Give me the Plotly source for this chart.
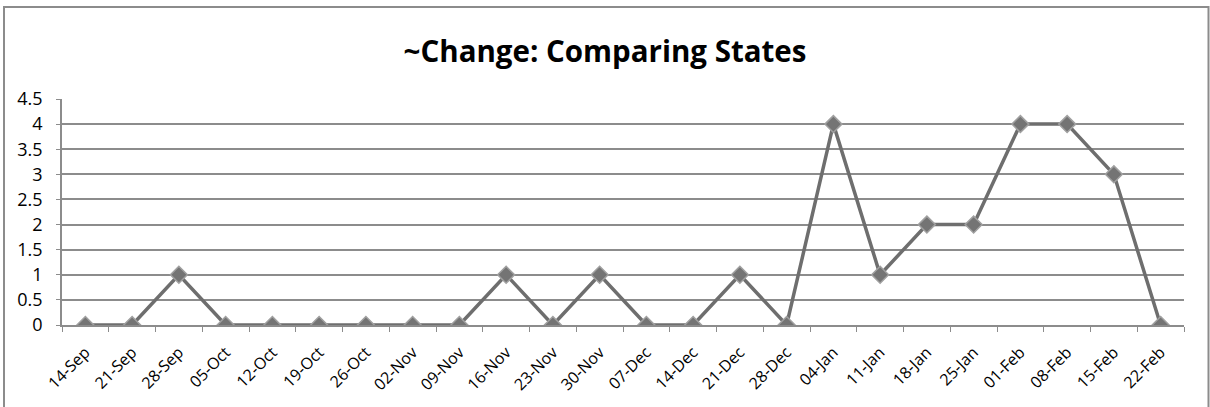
import plotly.graph_objects as go

categories = ["14-Sep", "21-Sep", "28-Sep", "05-Oct", "12-Oct", "19-Oct", "26-Oct", "02-Nov",
              "09-Nov", "16-Nov", "23-Nov", "30-Nov", "07-Dec", "14-Dec", "21-Dec", "28-Dec",
              "04-Jan", "11-Jan", "18-Jan", "25-Jan", "01-Feb", "08-Feb", "15-Feb", "22-Feb"]
values = [0, 0, 1, 0, 0, 0, 0, 0, 0, 1, 0, 1, 0, 0, 1, 0, 4, 1, 2, 2, 4, 4, 3, 0]
y_ticks = [0, 0.5, 1, 1.5, 2, 2.5, 3, 3.5, 4, 4.5]
y_tick_labels = ["0", "0.5", "1", "1.5", "2", "2.5", "3", "3.5", "4", "4.5"]

W, H = 1210, 407
ml, mr, mt, mb = 62, 26, 99, 82
pw, ph = W - ml - mr, H - mt - mb

fig = go.Figure()
fig.add_trace(go.Scatter(
    x=categories, y=values, mode="lines+markers",
    line=dict(color="#6e6e6e", width=3.5),
    marker=dict(symbol="diamond", size=13, color="#747474",
                line=dict(color="#a0a0a0", width=1.5)),
    showlegend=False,
))

fig.update_layout(
    width=W, height=H,
    margin=dict(l=ml, r=mr, t=mt, b=mb),
    paper_bgcolor="white", plot_bgcolor="white",
    font=dict(family="Open Sans, Liberation Sans, sans-serif", color="#000000"),
    title=dict(text="<b>~Change: Comparing States</b>", x=0.5, xanchor="center",
               y=1 - 52 / H, yanchor="middle",
               font=dict(size=29.5, family="Open Sans, sans-serif", color="#000000")),
    xaxis=dict(type="category", range=[-0.5, len(categories) - 0.5],
               tickangle=-45, tickfont=dict(size=16), ticks="outside", ticklen=5,
               ticklabelstandoff=10,
               tickson="boundaries", tickcolor="#8c8c8c",
               showline=True, linecolor="#8c8c8c", linewidth=1.5,
               showgrid=False, zeroline=False),
    yaxis=dict(range=[0, 4.5], tickvals=y_ticks, ticktext=y_tick_labels,
               tickfont=dict(size=18), ticks="outside", ticklen=4, tickcolor="#8c8c8c",
               ticklabelstandoff=10,
               showline=True, linecolor="#8c8c8c", linewidth=1.5,
               showgrid=True, gridcolor="#8c8c8c", gridwidth=1.5, zeroline=False),
    shapes=[dict(type="rect", xref="paper", yref="paper",
                 x0=(4 - ml) / pw, x1=(W - 1.5 - ml) / pw,
                 y0=(mb - H - 20) / ph, y1=(H - 7 - mb) / ph,
                 line=dict(color="#8c8c8c", width=2), fillcolor="rgba(0,0,0,0)",
                 layer="below")],
)

fig.write_html("out.html", config={"displayModeBar": False},
               post_script="document.body.style.margin='0';")
